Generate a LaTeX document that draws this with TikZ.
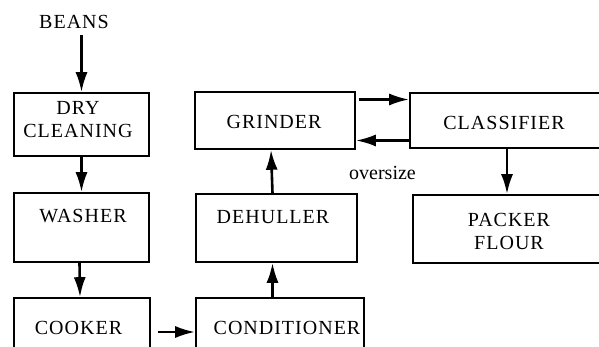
\documentclass[tikz,border=0pt]{standalone}
\usepackage{fontspec}
\setmainfont{Liberation Serif}
\newfontfamily\capfont{Liberation Serif}[LetterSpace=5]
\usepackage{tikz}
\usetikzlibrary{positioning, arrows.meta, calc}

\begin{document}
\begin{tikzpicture}[x=0.5pt, y=-0.5pt, >={Latex[length=10pt,width=6pt]},
    font=\capfont\fontsize{10}{11.5}\selectfont]
    \tikzset{unit/.style={draw, line width=0.8pt, inner sep=0pt},
             txt/.style={align=center, inner sep=0pt},
             flow/.style={->, line width=1.3pt}}
    \useasboundingbox (0,0) rectangle (599,347);
    \clip (0,0) rectangle (599,347);

    % process units, left column
    \node[unit, minimum width=67.5pt, minimum height=31.5pt] (dry) at (81.5,124.5) {};
    \node[unit, minimum width=67.5pt, minimum height=34.5pt] (washer) at (81.5,227.5) {};
    \node[unit, minimum width=68pt, minimum height=34pt] (cooker) at (82,332) {};
    % middle column
    \node[unit, minimum width=80pt, minimum height=28.5pt] (grind) at (275,120.5) {};
    \node[unit, minimum width=80.5pt, minimum height=34pt] (dehul) at (276.5,228) {};
    \node[unit, minimum width=84pt, minimum height=34pt] (cond) at (280,332) {};
    % right column
    \node[unit, minimum width=115pt, minimum height=27.5pt] (classif) at (525,120.5) {};
    \node[unit, minimum width=113.5pt, minimum height=34pt] (packer) at (526.5,229) {};

    % texts
    \node[txt] (beans) at (74,22) {BEANS};
    \node[txt] (dry-t) at (78,120) {DRY\\CLEANING};
    \node[txt] (washer-t) at (83,216) {WASHER};
    \node[txt] (cooker-t) at (78.5,328) {COOKER};
    \node[txt] (grind-t) at (274,122) {GRINDER};
    \node[txt] (dehul-t) at (273,217) {DEHULLER};
    \node[txt] (cond-t) at (287,328) {CONDITIONER};
    \node[txt] (classif-t) at (504,123) {CLASSIFIER};
    \node[txt] (packer-t) at (509,231) {PACKER\\FLOUR};

    % flows
    \draw[flow, shorten <=3pt] (beans.south -| dry.north) -- (dry.north);
    \draw[flow] (dry.south) -- (washer.north);
    \draw[flow] ([xshift=-1pt]washer.south) -- ([xshift=-1pt]cooker.north);
    \draw[flow, shorten <=3.5pt] (cooker.east) -- (cond.west);
    \draw[flow] ([xshift=-2pt]dehul.south |- cond.north) -- ([xshift=-2pt]dehul.south);
    \draw[flow] ([xshift=-2pt]dehul.north) -- ([xshift=-2pt]grind.south);
    \draw[flow, shorten <=1.5pt] ([yshift=10.5pt]grind.east) -- ([yshift=10.5pt]grind.east -| classif.west);
    \draw[flow] ([yshift=-10pt]classif.west) -- ([yshift=-10pt]classif.west -| grind.east)
        node[midway, below=9pt, font=\rmfamily\fontsize{10}{12}\selectfont] (over) {oversize};
    \draw[flow] ([xshift=-9pt]classif.south) -- ([xshift=-9pt]classif.south |- packer.north);
\end{tikzpicture}
\end{document}
